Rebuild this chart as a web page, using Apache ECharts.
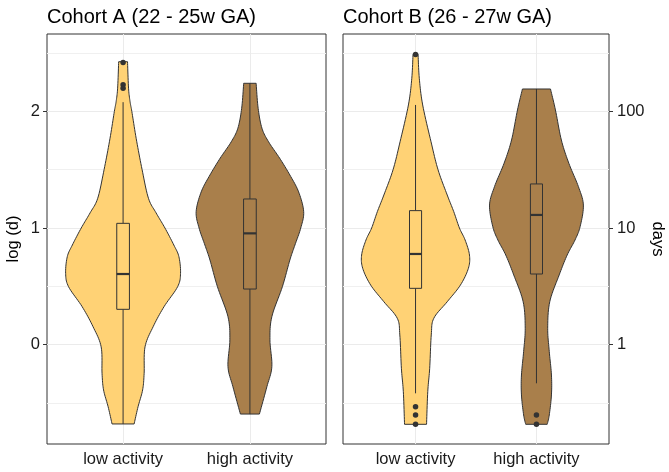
<!DOCTYPE html>
<html><head><meta charset="utf-8">
<script src="https://cdn.jsdelivr.net/npm/echarts@6/dist/echarts.min.js"></script>
<style>html,body{margin:0;padding:0;background:#fff}#c{width:669px;height:472px}</style>
</head><body><div id="c"></div>
<script>
// ---- data ----
const categories = ['low activity', 'high activity'];
const panelTitles = ['Cohort A (22 - 25w GA)', 'Cohort B (26 - 27w GA)'];
const yTickValues = [0, 1, 2];
const leftTickLabels = ['0', '1', '2'];
const rightTickLabels = ['1', '10', '100'];
const minorBreaks = [-0.5, 0.5, 1.5, 2.5];

// violin outlines: log(d) levels and half-widths (category units)
const violinA_low_y = [-0.682, -0.534, -0.39, -0.247, -0.02, 0.153, 0.325, 0.496, 0.61, 0.754, 0.854, 1.0, 1.13, 1.255, 1.5, 1.77, 2.0, 2.084, 2.2, 2.427];
const violinA_low_w = [0.087, 0.118, 0.154, 0.166, 0.173, 0.237, 0.323, 0.43, 0.453, 0.44, 0.40, 0.33, 0.26, 0.20, 0.150, 0.103, 0.069, 0.055, 0.043, 0.035];
const violinA_high_y = [-0.597, -0.362, -0.19, 0.04, 0.239, 0.496, 0.725, 0.854, 1.0, 1.14, 1.31, 1.455, 1.6, 1.74, 1.856, 2.027, 2.242];
const violinA_high_w = [0.075, 0.134, 0.173, 0.158, 0.173, 0.256, 0.315, 0.355, 0.401, 0.424, 0.384, 0.315, 0.234, 0.147, 0.095, 0.065, 0.049];
const violinB_low_y = [-0.685, -0.405, -0.204, 0.082, 0.225, 0.367, 0.51, 0.654, 0.768, 0.897, 1.0, 1.14, 1.283, 1.5, 1.74, 2.056, 2.285, 2.49];
const violinB_low_w = [0.091, 0.101, 0.117, 0.130, 0.151, 0.262, 0.371, 0.437, 0.446, 0.41, 0.363, 0.316, 0.262, 0.186, 0.128, 0.059, 0.031, 0.021];
const violinB_high_y = [-0.685, -0.605, -0.433, -0.262, -0.06, 0.139, 0.367, 0.597, 0.768, 0.897, 1.011, 1.197, 1.355, 1.555, 1.755, 2.013, 2.193];
const violinB_high_w = [0.089, 0.106, 0.124, 0.124, 0.106, 0.093, 0.110, 0.188, 0.254, 0.319, 0.361, 0.388, 0.347, 0.268, 0.206, 0.157, 0.116];

// box stats: [lower whisker, Q1, median, Q3, upper whisker]
const boxA_low = [-0.682, 0.302, 0.605, 1.04, 2.08];
const boxA_high = [-0.597, 0.476, 0.954, 1.249, 2.242];
const boxB_low = [-0.419, 0.482, 0.777, 1.149, 2.056];
const boxB_high = [-0.333, 0.605, 1.112, 1.378, 2.193];

// outliers (log d)
const outA_low = [2.42, 2.23, 2.20];
const outA_high = [];
const outB_low = [2.49, -0.534, -0.605, -0.685];
const outB_high = [-0.605, -0.685];

// ---- styling ----
const fills = ['#FFD275', '#A97F4B'];
const ink = '#333333';
const font = "'Liberation Sans', Arial, sans-serif";
const Y_MIN = -0.854, Y_MAX = 2.665;
const FS = 16.5;

function catmull(P, steps) {
  const out = [P[0]];
  for (let i = 0; i < P.length - 1; i++) {
    const p0 = P[Math.max(i - 1, 0)], p1 = P[i], p2 = P[i + 1], p3 = P[Math.min(i + 2, P.length - 1)];
    const c1 = [p1[0] + (p2[0] - p0[0]) / 6, p1[1] + (p2[1] - p0[1]) / 6];
    const c2 = [p2[0] - (p3[0] - p1[0]) / 6, p2[1] - (p3[1] - p1[1]) / 6];
    for (let s = 1; s <= steps; s++) {
      const t = s / steps, u = 1 - t;
      out.push([
        u*u*u*p1[0] + 3*u*u*t*c1[0] + 3*u*t*t*c2[0] + t*t*t*p2[0],
        u*u*u*p1[1] + 3*u*u*t*c1[1] + 3*u*t*t*c2[1] + t*t*t*p2[1]
      ]);
    }
  }
  return out;
}

function violinRender(vs) {
  return function (params, api) {
    const v = vs[params.dataIndex];
    const cx = api.value(0);
    const left = v.y.map((y, k) => api.coord([cx - v.w[k], y]));
    const right = v.y.map((y, k) => api.coord([cx + v.w[k], y])).reverse();
    const pts = catmull(left, 10).concat(catmull(right, 10));
    return { type: 'polygon', shape: { points: pts },
      style: { fill: fills[params.dataIndex], stroke: ink, lineWidth: 1 } };
  };
}

function boxRender(bs) {
  return function (params, api) {
    const b = bs[params.dataIndex];
    const cx = api.value(0);
    const p = b.map(v => api.coord([cx, v]));
    const hw = api.size([0.05, 0])[0];
    const x = p[0][0];
    return { type: 'group', children: [
      { type: 'line', shape: { x1: x, y1: p[0][1], x2: x, y2: p[1][1] }, style: { stroke: ink, lineWidth: 1 } },
      { type: 'line', shape: { x1: x, y1: p[3][1], x2: x, y2: p[4][1] }, style: { stroke: ink, lineWidth: 1 } },
      { type: 'rect', shape: { x: x - hw, y: p[3][1], width: 2 * hw, height: p[1][1] - p[3][1] },
        style: { fill: fills[params.dataIndex], stroke: ink, lineWidth: 1 } },
      { type: 'line', shape: { x1: x - hw, y1: p[2][1], x2: x + hw, y2: p[2][1] }, style: { stroke: ink, lineWidth: 2.2 } }
    ]};
  };
}

const panels = [
  { violins: [{ y: violinA_low_y, w: violinA_low_w }, { y: violinA_high_y, w: violinA_high_w }],
    boxes: [boxA_low, boxA_high], outs: [outA_low, outA_high] },
  { violins: [{ y: violinB_low_y, w: violinB_low_w }, { y: violinB_high_y, w: violinB_high_w }],
    boxes: [boxB_low, boxB_high], outs: [outB_low, outB_high] }
];

const grids = [
  { left: 47, top: 34, width: 279, height: 410 },
  { left: 343, top: 34, width: 266, height: 410 }
].map(g => Object.assign(g, { show: true, borderColor: ink, borderWidth: 1, backgroundColor: '#fff', outerBoundsMode: 'none', containLabel: false }));

const xAxes = [0, 1].map(gi => ({
  type: 'value', gridIndex: gi, min: 0.4, max: 2.6,
  axisLine: { show: false },
  axisTick: { show: true, length: 4, customValues: [1, 2], lineStyle: { color: ink } },
  axisLabel: { customValues: [1, 2], formatter: v => categories[Math.round(v) - 1], fontSize: FS, color: '#1a1a1a', fontFamily: font, margin: 7 },
  splitLine: { show: true, lineStyle: { color: '#ebebeb', width: 1 } }
}));

const yAxes = [];
yAxes.push({ type: 'value', gridIndex: 0, min: Y_MIN, max: Y_MAX, position: 'left',
  axisLine: { show: false },
  axisTick: { show: true, length: 4, customValues: yTickValues, lineStyle: { color: ink } },
  axisLabel: { customValues: yTickValues, formatter: v => leftTickLabels[yTickValues.indexOf(Math.round(v))], fontSize: FS, color: '#1a1a1a', fontFamily: font, margin: 7 },
  splitLine: { show: true, lineStyle: { color: '#ebebeb', width: 1 } },
  name: 'log (d)', nameLocation: 'middle', nameGap: 25, nameRotate: 90,
  nameTextStyle: { fontSize: FS, color: '#000', fontFamily: font } });
yAxes.push({ type: 'value', gridIndex: 0, min: Y_MIN, max: Y_MAX, position: 'right',
  axisLine: { show: false }, axisTick: { show: false, customValues: minorBreaks }, axisLabel: { show: false, customValues: minorBreaks },
  splitLine: { show: true, lineStyle: { color: '#f0f0f0', width: 1 } } });
yAxes.push({ type: 'value', gridIndex: 1, min: Y_MIN, max: Y_MAX, position: 'right',
  axisLine: { show: false },
  axisTick: { show: true, length: 4, customValues: yTickValues, lineStyle: { color: ink } },
  axisLabel: { customValues: yTickValues, formatter: v => rightTickLabels[yTickValues.indexOf(Math.round(v))], fontSize: FS, color: '#1a1a1a', fontFamily: font, margin: 8 },
  splitLine: { show: true, lineStyle: { color: '#ebebeb', width: 1 } },
  name: 'days', nameLocation: 'middle', nameGap: 40, nameRotate: -90,
  nameTextStyle: { fontSize: FS, color: '#000', fontFamily: font } });
yAxes.push({ type: 'value', gridIndex: 1, min: Y_MIN, max: Y_MAX, position: 'left',
  axisLine: { show: false }, axisTick: { show: false, customValues: minorBreaks }, axisLabel: { show: false, customValues: minorBreaks },
  splitLine: { show: true, lineStyle: { color: '#f0f0f0', width: 1 } } });

const series = [];
panels.forEach((pn, gi) => {
  const yi = gi === 0 ? 0 : 2;
  series.push({ type: 'custom', xAxisIndex: gi, yAxisIndex: yi, renderItem: violinRender(pn.violins),
    data: [[1, 0], [2, 0]], encode: { x: 0, y: 1 }, z: 2, silent: true });
  series.push({ type: 'custom', xAxisIndex: gi, yAxisIndex: yi, renderItem: boxRender(pn.boxes),
    data: [[1, 0], [2, 0]], encode: { x: 0, y: 1 }, z: 3, silent: true });
  const pts = [];
  pn.outs.forEach((arr, ci) => arr.forEach(v => pts.push([ci + 1, v])));
  series.push({ type: 'scatter', xAxisIndex: gi, yAxisIndex: yi, data: pts, symbolSize: 5.5,
    itemStyle: { color: ink, opacity: 1 }, z: 4, silent: true });
});

const chart = echarts.init(document.getElementById('c'), null, { renderer: 'canvas' });
chart.setOption({
  animation: false,
  backgroundColor: '#fff',
  title: panelTitles.map((t, i) => ({ text: t, left: grids[i].left, top: 7, padding: 0,
    textStyle: { fontSize: 20, fontWeight: 'normal', color: '#000', fontFamily: font } })),
  grid: grids, xAxis: xAxes, yAxis: yAxes, series
});
</script></body></html>
